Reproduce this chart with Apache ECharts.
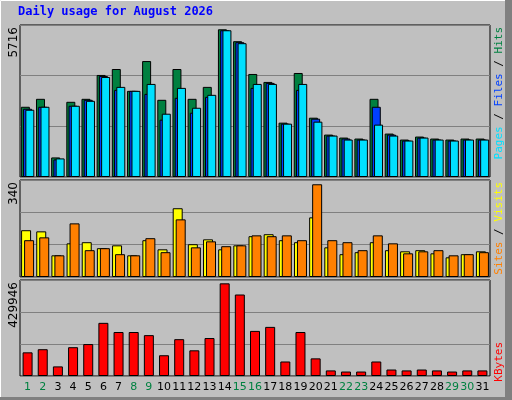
<!DOCTYPE html>
<html><head><meta charset="utf-8">
<script src="https://cdn.jsdelivr.net/npm/echarts@6/dist/echarts.min.js"></script>
<style>html,body{margin:0;padding:0;background:#c0c0c0}#c{width:512px;height:400px}</style>
</head><body><div id="c"></div>
<script>
const days = Array.from({length:31},(_,i)=>String(i+1));
const weekend = [1,2,8,9,15,16,22,23,29,30];
const hits  = [2641,2940,736,2828,2940,3837,4061,3239,4360,2903,4061,2940,3389,5555,5107,3874,3575,2044,3911,2230,1595,1483,1446,2940,1633,1408,1521,1446,1408,1446,1446];
const files = [2567,2641,661,2679,2903,3800,3276,3239,3127,2156,2978,2417,3015,5518,5070,3351,3538,2006,3276,2193,1558,1446,1408,2641,1595,1371,1483,1408,1371,1408,1408];
const pages = [2529,2641,699,2679,2865,3762,3389,3239,3500,2380,3351,2604,3090,5518,5032,3500,3500,2006,3500,2081,1558,1408,1408,1969,1558,1371,1483,1408,1371,1408,1408];
const sites = [164,160,76,118,122,101,111,76,129,97,241,115,132,97,111,143,150,129,122,209,104,80,87,122,94,90,94,83,69,80,90];
const visits= [129,139,76,188,94,101,80,76,136,87,202,104,125,108,111,146,143,146,129,325,129,122,94,146,118,83,90,94,76,80,87];
const kbytes= [106000,120000,43000,129000,143000,238000,197000,197000,183000,93000,165000,115000,170000,415000,365000,202000,220000,65000,197000,79000,25000,20000,20000,65000,29000,25000,29000,25000,20000,25000,25000];
const maxHits = 5716, maxVisits = 340, maxKB = 429946;

const chart = echarts.init(document.getElementById('c'));
const grids = [
  {left:20,right:22,top:25,height:152},
  {left:20,right:22,top:180,height:97},
  {left:20,right:22,top:280,height:96}
].map(g=>Object.assign(g,{show:true,borderColor:'#000',borderWidth:1,backgroundColor:'#c0c0c0'}));
const xAx = i => ({type:'category',gridIndex:i,data:days,axisTick:{show:false},axisLine:{show:false},
  axisLabel:{show:i===2,margin:6,interval:0,fontFamily:'DejaVu Sans',fontSize:11,
    formatter:v=>weekend.includes(+v)?'{w|'+v+'}':'{d|'+v+'}',
    rich:{w:{color:'#008040',fontSize:11,fontFamily:'DejaVu Sans'},d:{color:'#000',fontSize:11,fontFamily:'DejaVu Sans'}}}});
const yAx = (i,m) => ({type:'value',gridIndex:i,min:0,max:m,interval:m/3,axisLabel:{show:false},axisLine:{show:false},axisTick:{show:false},
  splitLine:{lineStyle:{color:'#808080',width:1}}});
const bs = {borderColor:'#000',borderWidth:1};
const bar=(name,data,color,xi,w,gap)=>({type:'bar',name,data,xAxisIndex:xi,yAxisIndex:xi,barWidth:w,barGap:gap,
  itemStyle:Object.assign({color},bs),animation:false});
const rtext=(x,y,text,rich,font)=>({type:'text',x,y,rotation:Math.PI/2,
  style:{text,rich,align:'right',verticalAlign:'middle',font:font||'12px "DejaVu Sans Mono"',fill:'#000'}});
const mono='11px "DejaVu Sans Mono"';
chart.setOption({
  backgroundColor:'#c0c0c0',
  grid:grids,
  xAxis:[xAx(0),xAx(1),xAx(2)],
  yAxis:[yAx(0,maxHits),yAx(1,maxVisits),yAx(2,maxKB)],
  series:[
    bar('Hits',hits,'#008040',0,9,'-75%'),
    bar('Files',files,'#0040ff',0,9,'-75%'),
    bar('Pages',pages,'#00e0ff',0,9,'-75%'),
    bar('Sites',sites,'#ffff00',1,10,'-70%'),
    bar('Visits',visits,'#ff8000',1,10,'-70%'),
    bar('KBytes',kbytes,'#ff0000',2,10,'0%')
  ],
  graphic:[
    {type:'rect',shape:{x:0.5,y:0.5,width:511,height:399},style:{fill:'none',stroke:'#ffffff',lineWidth:1}},
    {type:'rect',shape:{x:505,y:0,width:7,height:400},style:{fill:'#808080'}},
    {type:'rect',shape:{x:0,y:397,width:512,height:3},style:{fill:'#808080'}},
    {type:'text',x:18,y:6,style:{text:'Daily usage for August 2026',font:'bold 12px "DejaVu Sans Mono"',fill:'#0000ff'}},
    rtext(14,27,'5716',null,'12px "DejaVu Sans"'),
    rtext(14,182,'340',null,'12px "DejaVu Sans"'),
    rtext(14,282,'429946',null,'12px "DejaVu Sans"'),
    {type:'text',x:499,y:27,rotation:Math.PI/2,style:{text:'{p|Pages}{s| / }{f|Files}{s| / }{h|Hits}',align:'right',verticalAlign:'middle',font:mono,
      rich:{p:{fill:'#00e0ff',font:mono},f:{fill:'#0040ff',font:mono},h:{fill:'#008040',font:mono},s:{fill:'#000',font:mono}}}},
    {type:'text',x:499,y:182,rotation:Math.PI/2,style:{text:'{a|Sites}{s| / }{b|Visits}',align:'right',verticalAlign:'middle',font:mono,
      rich:{a:{fill:'#ff8000',font:mono},b:{fill:'#ffff00',font:mono},s:{fill:'#000',font:mono}}}},
    {type:'text',x:499,y:342,rotation:Math.PI/2,style:{text:'KBytes',align:'right',verticalAlign:'middle',font:mono,fill:'#ff0000'}}
  ]
});
</script></body></html>
